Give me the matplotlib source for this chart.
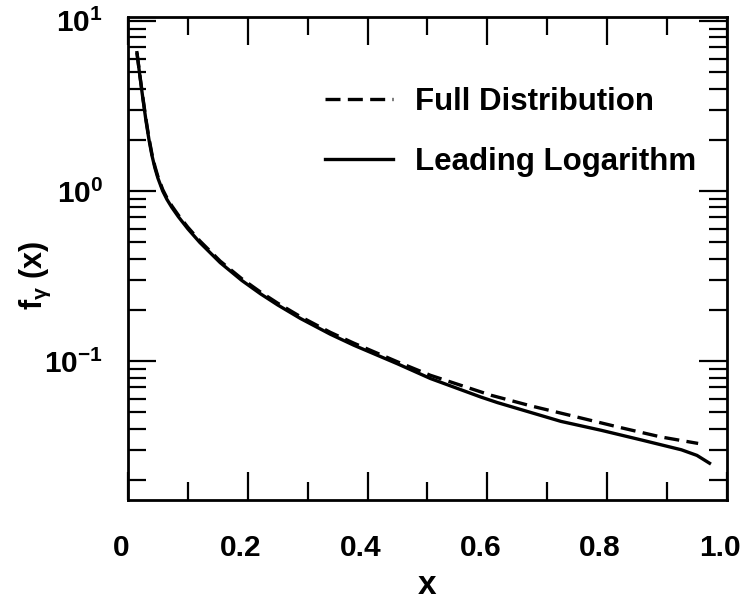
import matplotlib
matplotlib.use("Agg")
import matplotlib.pyplot as plt
from matplotlib.ticker import MultipleLocator, FuncFormatter, LogLocator
from matplotlib.transforms import ScaledTranslation
import numpy as np

# шрифты: жирный гельветикоподобный
plt.rcParams['font.family'] = 'Liberation Sans'
plt.rcParams['font.weight'] = 'bold'
plt.rcParams['axes.labelweight'] = 'bold'
plt.rcParams['mathtext.fontset'] = 'custom'
plt.rcParams['mathtext.rm'] = 'Liberation Sans:bold'
plt.rcParams['mathtext.it'] = 'Liberation Sans:bold'
plt.rcParams['mathtext.bf'] = 'Liberation Sans:bold'
plt.rcParams['mathtext.default'] = 'regular'

# данные
x_lead = [0.015, 0.02, 0.025, 0.03, 0.035, 0.04, 0.045, 0.05, 0.058, 0.065, 0.073, 0.084,
          0.1, 0.12, 0.154, 0.19, 0.221, 0.25, 0.288, 0.338, 0.377, 0.45, 0.505, 0.589,
          0.617, 0.723, 0.79, 0.857, 0.924, 0.95, 0.971]
y_lead = [6.5, 4.71, 3.47, 2.6, 2.01, 1.62, 1.366, 1.19, 1.0, 0.893, 0.803, 0.707,
          0.599, 0.498, 0.379, 0.298, 0.249, 0.2138, 0.178, 0.1438, 0.124, 0.0964, 0.079, 0.0615,
          0.057, 0.0442, 0.0392, 0.0344, 0.0301, 0.0279, 0.0251]

x_full = [0.015, 0.02, 0.025, 0.03, 0.035, 0.04, 0.045, 0.05, 0.058, 0.065, 0.073, 0.084,
          0.1, 0.12, 0.154, 0.19, 0.221, 0.25, 0.288, 0.338, 0.377, 0.45, 0.505, 0.606,
          0.673, 0.74, 0.823, 0.89, 0.952]
y_full = [6.5, 4.75, 3.52, 2.65, 2.05, 1.65, 1.395, 1.215, 1.02, 0.912, 0.82, 0.722,
          0.612, 0.509, 0.387, 0.305, 0.255, 0.219, 0.1825, 0.1475, 0.1275, 0.099, 0.0825, 0.063,
          0.0545, 0.0478, 0.0406, 0.0358, 0.0328]

labels = ["Full Distribution", "Leading Logarithm"]

fig = plt.figure(figsize=(7.44, 6.02), dpi=100)
ax = fig.add_axes([0.172, 0.169, 0.805, 0.803])

ax.plot(x_full, y_full, color='k', lw=2.4, linestyle=(0, (4.5, 2.2)), label=labels[0])
ax.plot(x_lead, y_lead, color='k', lw=2.4, label=labels[1])

ax.set_yscale('log')
ax.set_xlim(0, 1.0)
ax.set_ylim(0.0152, 10.56)

ax.xaxis.set_major_locator(MultipleLocator(0.2))
ax.xaxis.set_minor_locator(MultipleLocator(0.1))
ax.xaxis.set_major_formatter(FuncFormatter(lambda v, p: '0' if abs(v) < 1e-9 else '%.1f' % v))
ax.yaxis.set_major_locator(LogLocator(base=10))
ax.yaxis.set_minor_locator(LogLocator(base=10, subs=np.arange(2, 10)))

ax.tick_params(which='both', direction='in', top=True, right=True)
ax.tick_params(which='major', length=20, width=1.6, labelsize=21.5)
ax.tick_params(which='minor', length=13, width=1.6)
ax.tick_params(axis='x', which='major', pad=24)
ax.tick_params(axis='y', which='major', pad=18)
for s in ax.spines.values():
    s.set_linewidth(2)

# подписи оси x чуть левее делений, как в оригинале
shift = ScaledTranslation(-0.07, 0, fig.dpi_scale_trans)
for lab in ax.get_xticklabels():
    lab.set_transform(lab.get_transform() + shift)

ax.set_xlabel("x", fontsize=24, labelpad=6)
ax.set_ylabel(r"f$_\gamma$ (x)", fontsize=22)
ax.yaxis.set_label_coords(-0.125, 0.465)

ax.legend(loc='upper left', bbox_to_anchor=(0.329, 0.855), frameon=False,
          fontsize=22.5, handlelength=2.18, handletextpad=0.7, labelspacing=0.95,
          borderpad=0, borderaxespad=0)

fig.savefig("out.png", dpi=100)
